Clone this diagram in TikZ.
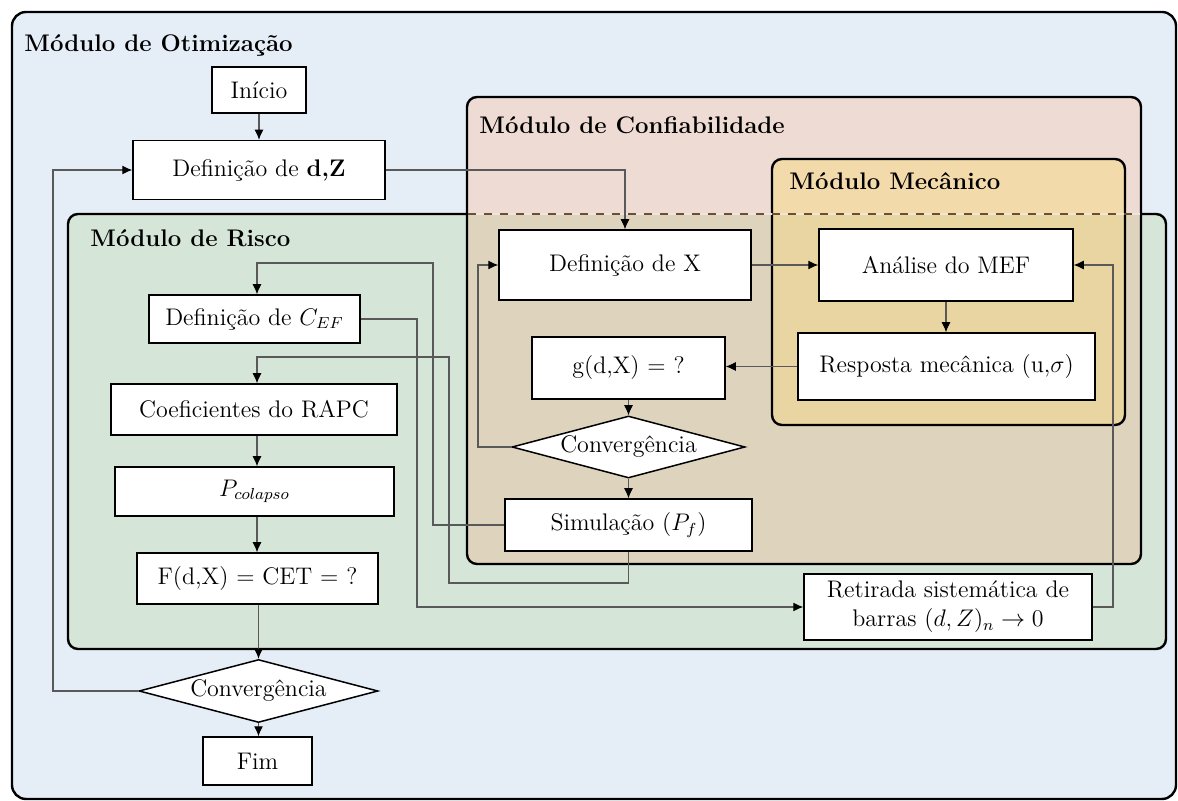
\documentclass[tikz,border=0pt]{standalone}
\usepackage{fontspec}
\usetikzlibrary{arrows.meta,shapes.geometric}
\definecolor{cOut}{HTML}{E5EEF7}
\definecolor{cRisk}{HTML}{D5E5D7}
\definecolor{cConf}{HTML}{EEDCD4}
\definecolor{cConfRisk}{HTML}{DED3BC}
\definecolor{cMec}{HTML}{F2DAAA}
\definecolor{cMecRisk}{HTML}{E9D5A1}
\definecolor{cDash}{HTML}{6E4E30}
\definecolor{cGap}{HTML}{ECE6DC}
\tikzset{
  box/.style={draw=black, fill=white, line width=0.75pt, inner sep=0pt, font=\fontsize{12}{14.4}\selectfont, align=center},
  dia/.style={draw=black, fill=white, line width=0.75pt, diamond, aspect=3.75, inner sep=0pt, font=\fontsize{12}{14.4}\selectfont},
  modtitle/.style={anchor=base west, inner sep=0pt, font=\fontsize{12}{14.4}\selectfont\bfseries},
  modborder/.style={draw=black, line width=1.2pt, rounded corners=5pt},
  conn/.style={draw=black!65, line width=0.55pt},
  arr/.style={conn, -{Latex[length=5pt,width=4.5pt,color=black]}}
}
\begin{document}
\begin{tikzpicture}[x=0.5pt,y=-0.5pt]
\useasboundingbox (0,0) rectangle (1178,801);
% outer module
\draw[fill=cOut, line width=1.2pt, rounded corners=7pt] (12,12) rectangle (1176,799);
% risk fill
\fill[cRisk, rounded corners=5pt] (68,214) rectangle (1166,649);
% reliability fill
\fill[cConf, rounded corners=5pt] (467,97) rectangle (1141,564);
\begin{scope}
  \clip[rounded corners=5pt] (68,214) rectangle (1166,649);
  \fill[cConfRisk, rounded corners=5pt] (467,97) rectangle (1141,564);
\end{scope}
% mechanical fill
\fill[cMec, rounded corners=5pt] (772,159) rectangle (1125,425);
\begin{scope}
  \clip[rounded corners=5pt] (68,214) rectangle (1166,649);
  \fill[cMecRisk, rounded corners=5pt] (772,159) rectangle (1125,425);
\end{scope}
% borders
\draw[modborder] (467,97) rectangle (1141,564);
\draw[modborder] (772,159) rectangle (1125,425);
\draw[modborder] (467,214) -- (68,214) -- (68,649) -- (1166,649) -- (1166,214) -- (1141,214);
\draw[cGap, line width=1.2pt] (468,214) -- (1140,214);
\draw[cDash, line width=1.2pt, dash pattern=on 4pt off 4pt] (468,214) -- (1140,214);
% titles
\node[modtitle] (tOt) at (24,52) {Módulo de Otimização};
\node[modtitle] (tCo) at (479,134) {Módulo de Confiabilidade};
\node[modtitle] (tMe) at (789,190) {Módulo Mecânico};
\node[modtitle] (tRi) at (90,247) {Módulo de Risco};
% nodes
\node[box, minimum width=47pt, minimum height=23pt] (ini) at (259,90) {Início};
\node[box, minimum width=126pt, minimum height=29.5pt] (dz) at (259,170) {Definição de \textbf{d,Z}};
\node[box, minimum width=126pt, minimum height=35pt] (dx) at (625,265) {Definição de X};
\node[box, minimum width=127pt, minimum height=36pt] (mef) at (946,265) {Análise do MEF};
\node[box, minimum width=148.5pt, minimum height=33.5pt] (resp) at (946.5,366.5) {Resposta mecânica (u,$\sigma$)};
\node[box, minimum width=96.5pt, minimum height=31pt] (g) at (628.5,368) {g(d,X) = ?};
\node[dia, minimum width=116.5pt, minimum height=31pt] (cv1) at (628.5,447) {Convergência};
\node[box, minimum width=123.5pt, minimum height=26pt] (sim) at (628.5,525) {Simulação ($P_f$)};
\node[box, minimum width=105.5pt, minimum height=24pt] (cef) at (254.5,319) {Definição de $C_{EF}$};
\node[box, minimum width=143pt, minimum height=25.5pt] (rapc) at (254,409.5) {Coeficientes do RAPC};
\node[box, minimum width=139.5pt, minimum height=24.5pt] (pcol) at (254.5,491.5) {$P_{colapso}$};
\node[box, minimum width=120.5pt, minimum height=25.5pt] (F) at (257.5,578.5) {F(d,X) = CET = ?};
\node[dia, minimum width=119.5pt, minimum height=31.5pt] (cv2) at (258.5,691) {Convergência};
\node[box, minimum width=144pt, minimum height=33pt] (ret) at (948,607) {Retirada sistemática de\\ barras $(d,Z)_n \to 0$};
\node[box, minimum width=54.5pt, minimum height=24pt] (fim) at (257.5,761) {Fim};
% helper coordinates
\coordinate (colx) at (257,0);
\coordinate (lpA) at (53,400);
\coordinate (lpB) at (478,400);
\coordinate (c1) at (433,263);
\coordinate (c2) at (417,607);
\coordinate (c3) at (449,583);
\coordinate (c4) at (257,357);
\coordinate (c5) at (1113,400);
% connectors
\draw[arr] (ini) -- (dz);
\draw[arr] (dz.east) -| (dx.north);
\draw[arr] (cv2.west) -| (lpA) |- (dz.west);
\draw[arr] (dx.east) -- (mef.west);
\draw[arr] (mef.south) -- (resp.north -| mef.south);
\draw[arr] (resp.west) -- (resp.west -| g.east);
\draw[arr] (g.south) -- (cv1.north -| g.south);
\draw[arr] (cv1.west) -| (lpB) |- (dx.west);
\draw[arr] (cv1.south) -- (sim.north);
\draw[arr] (sim.west) -| (c1) -| (cef.north -| colx);
\draw[arr] (cef.east) -| (c2) -- (ret.west);
\draw[arr] (sim.south) |- (c3) |- (c4) -- (rapc.north -| colx);
\draw[arr] (ret.east) -| (c5) |- (mef.east);
\draw[arr] (rapc.south -| colx) -- (pcol.north -| colx);
\draw[arr] (pcol.south -| colx) -- (F.north -| colx);
\draw[arr] (F.south -| cv2.north) -- (cv2.north);
\draw[arr] (cv2.south) -- (fim.north -| cv2.south);
\end{tikzpicture}
\end{document}
